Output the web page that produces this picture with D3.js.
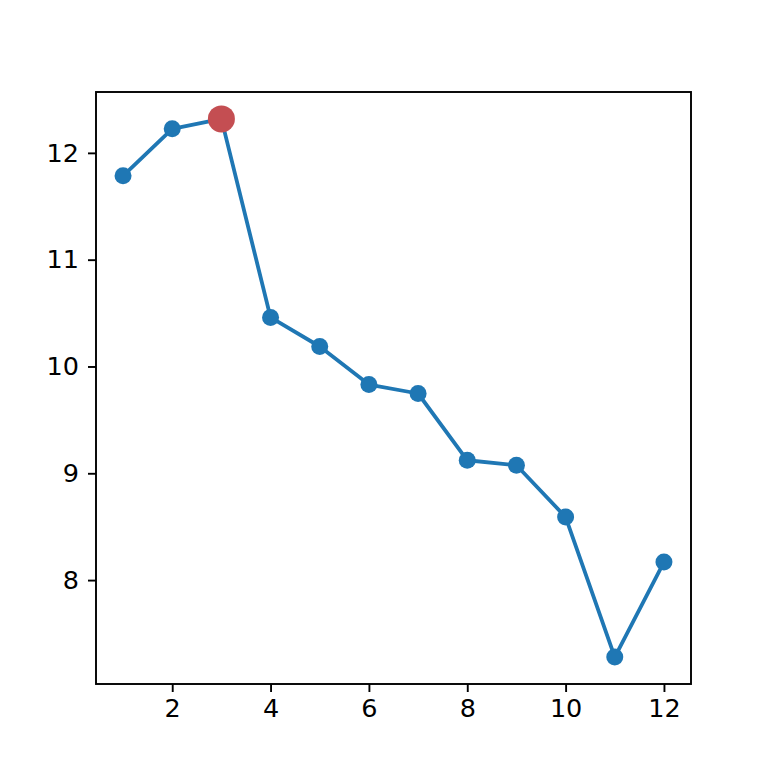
<!DOCTYPE html>
<html><head><meta charset="utf-8">
<script src="https://cdn.jsdelivr.net/npm/d3@7"></script>
<style>html,body{margin:0;padding:0;background:#fff;}svg{display:block;}</style>
</head><body>
<script>
const xs = [1,2,3,4,5,6,7,8,9,10,11,12];
const ys = [11.785,12.225,12.318,10.459,10.187,9.831,9.747,9.122,9.075,8.590,7.279,8.169];
const highlightIndex = 2;
const xTicks = [2,4,6,8,10,12];
const yTicks = [8,9,10,11,12];

const W=768,H=768, L=96, R=691, T=92, B=684;
const svg=d3.select("body").append("svg").attr("width",W).attr("height",H);
const xmin=d3.min(xs), xmax=d3.max(xs), xm=(xmax-xmin)*0.05;
const ymin=d3.min(ys), ymax=d3.max(ys), ym=(ymax-ymin)*0.05;
const x=d3.scaleLinear().domain([xmin-xm,xmax+xm]).range([L,R]);
const y=d3.scaleLinear().domain([ymin-ym,ymax+ym]).range([B,T]);
const font="DejaVu Sans";

const xAxis=svg.append("g").attr("transform",`translate(0,${B})`)
  .call(d3.axisBottom(x).tickValues(xTicks).tickSize(8).tickPadding(7).tickFormat(d3.format("d")));
const yAxis=svg.append("g").attr("transform",`translate(${L},0)`)
  .call(d3.axisLeft(y).tickValues(yTicks).tickSize(8).tickPadding(9).tickFormat(d3.format("d")));
[xAxis,yAxis].forEach(g=>{
  g.select(".domain").remove();
  g.attr("font-size",null).attr("font-family",null);
  g.selectAll(".tick line").attr("stroke","#000").attr("stroke-width",1.9);
  g.selectAll(".tick text").attr("fill","#000").attr("font-family",font).attr("font-size",25.5);
});
svg.append("rect").attr("x",L).attr("y",T).attr("width",R-L).attr("height",B-T)
  .attr("fill","none").attr("stroke","#000").attr("stroke-width",1.9);

const line=d3.line().x((d,i)=>x(xs[i])).y(d=>y(d));
svg.append("path").datum(ys).attr("d",line).attr("fill","none")
  .attr("stroke","#1f77b4").attr("stroke-width",3.8).attr("stroke-linejoin","round");
svg.selectAll("circle.pt").data(ys).join("circle").attr("class","pt")
  .attr("cx",(d,i)=>x(xs[i])).attr("cy",d=>y(d)).attr("r",8.5).attr("fill","#1f77b4");
svg.append("circle").attr("cx",x(xs[highlightIndex])).attr("cy",y(ys[highlightIndex]))
  .attr("r",13.5).attr("fill","#c44e52");
</script>
</body></html>
